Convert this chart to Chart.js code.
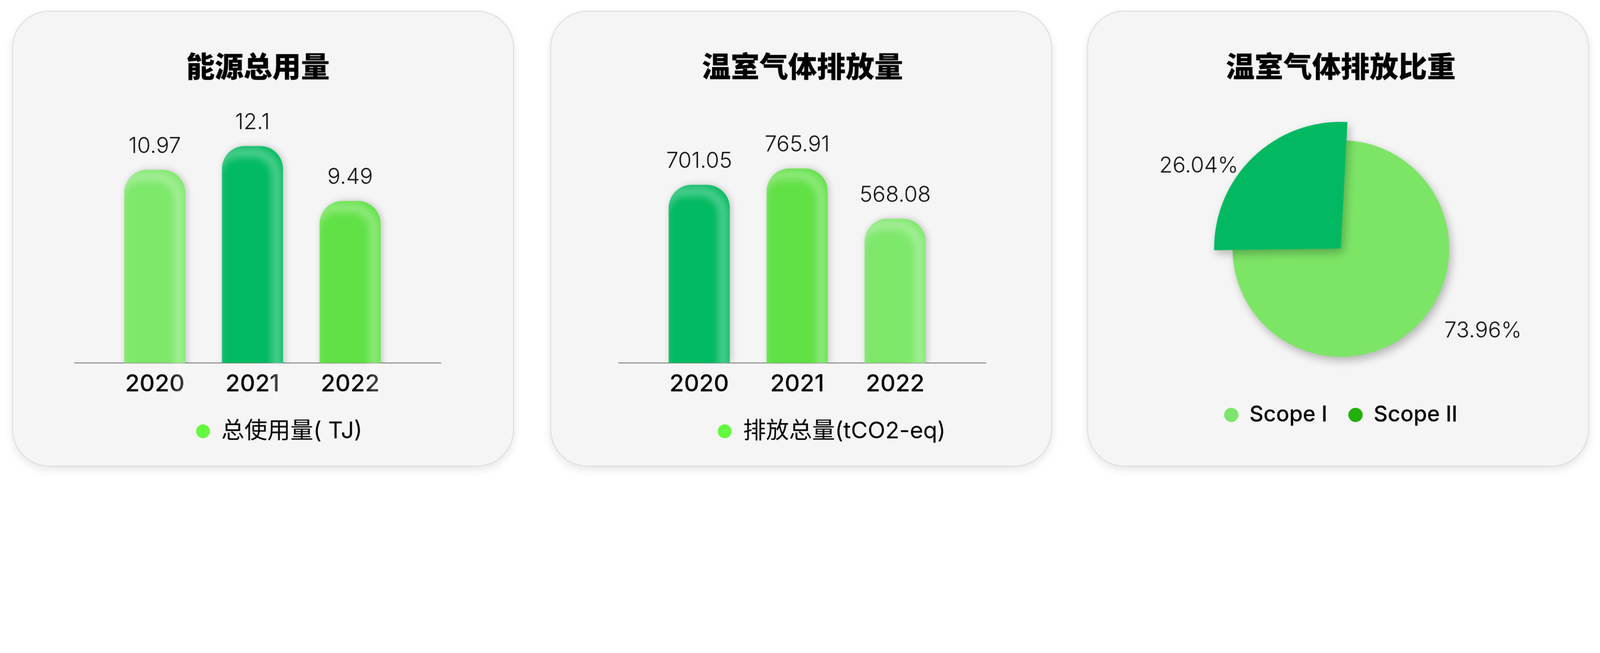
<!DOCTYPE html>
<html lang="zh-CN">
<head>
<meta charset="utf-8">
<title>能源总用量 / 温室气体排放</title>
<script src="https://cdn.jsdelivr.net/npm/chart.js@4.4.1/dist/chart.umd.min.js"></script>
<style>
  html, body { margin: 0; padding: 0; background: #fff; overflow: hidden; }
  #stage {
    position: absolute; left: 0; top: 0; width: 5572px; height: 1671px;
    transform-origin: 0 0;
  }
  .card {
    position: absolute; top: 37px; width: 1748px; height: 1587px;
    box-sizing: border-box; background: #f5f5f5;
    border: 3px solid #dcdcdc; border-radius: 130px;
    box-shadow: 0 12px 30px rgba(0, 0, 0, 0.10);
  }
</style>
</head>
<body>
<div id="stage">
  <div class="card" style="left:42px"><canvas id="energyChart"></canvas></div>
  <div class="card" style="left:1916px"><canvas id="ghgChart"></canvas></div>
  <div class="card" style="left:3786px"><canvas id="scopeChart"></canvas></div>
</div>

<script>
// data
const years = ['2020', '2021', '2022'];
const energyUse = [10.97, 12.1, 9.49];          // 总使用量 (TJ)
const ghgEmission = [701.05, 765.91, 568.08];   // 排放总量 (tCO2-eq)
const scopeLabels = ['Scope I', 'Scope II'];
const scopeShares = [73.96, 26.04];             // %

const LIGHT = '#7ee86b', DARK = '#02ba61', MID = '#61e145';
const DOT = '#63f93e';
const PIE_COLORS = ['#7ce566', '#02b961'];
const PIE_LEGEND = ['#7de56a', '#22b00a'];

// the layout is drawn in reference pixels (5572 wide), then fitted to the window width
const scale = Math.min(1, window.innerWidth / 5572);
document.getElementById('stage').style.transform = 'scale(' + scale + ')';
const DPR = (window.devicePixelRatio || 1) * scale;

const SANS = 'Inter, "Noto Sans CJK SC", sans-serif';
Chart.defaults.font.family = SANS;
Chart.defaults.color = '#000';

// soft shadow under the bars + light inner edge on top/right
const barGloss = {
  id: 'barGloss',
  beforeDatasetsDraw(chart) {
    const c = chart.ctx;
    c.save();
    c.shadowColor = 'rgba(0,0,0,0.20)';
    c.shadowBlur = 18;
    c.shadowOffsetX = 4;
  },
  afterDatasetsDraw(chart) {
    const c = chart.ctx;
    c.restore();
    if (!c.roundRect) return;
    chart.getDatasetMeta(0).data.forEach(bar => {
      const {x, y, base, width} = bar.getProps(['x', 'y', 'base', 'width'], true);
      const left = x - width / 2, r = Math.min(80, width / 2);
      c.save();
      c.beginPath();
      c.roundRect(left, y, width, base - y, [r, r, 0, 0]);
      c.clip();
      c.filter = 'blur(10px)';
      c.strokeStyle = 'rgba(255,255,255,0.30)';
      c.lineWidth = 34;
      c.beginPath();
      c.roundRect(left - 22, y + 22, width, base - y + 60, [r, r, 0, 0]);
      c.stroke();
      c.restore();
    });
  }
};

// value above every bar
const valueLabels = {
  id: 'valueLabels',
  afterDatasetsDraw(chart) {
    const c = chart.ctx;
    const ds = chart.data.datasets[0];
    c.save();
    c.font = '300 76px ' + SANS;
    c.fillStyle = '#111';
    c.textAlign = 'center';
    c.textBaseline = 'middle';
    chart.getDatasetMeta(0).data.forEach((el, i) => {
      c.fillText(String(ds.data[i].y), el.x, el.y - 82);
    });
    c.restore();
  }
};

function barChart(id, opts) {
  return new Chart(document.getElementById(id), {
    type: 'bar',
    data: {
      datasets: [{
        label: opts.legend,
        data: opts.values.map((v, i) => ({x: i, y: v})),
        backgroundColor: opts.colors,
        barThickness: 212,
        borderRadius: {topLeft: 80, topRight: 80, bottomLeft: 0, bottomRight: 0},
        borderSkipped: 'bottom'
      }]
    },
    options: {
      responsive: true,
      maintainAspectRatio: false,
      animation: false,
      devicePixelRatio: DPR,
      layout: {padding: {top: 0, bottom: 70, left: opts.padL, right: opts.padR}},
      plugins: {
        title: {
          display: true,
          text: opts.title,
          fullSize: false,
          color: '#000',
          font: {family: '"Noto Sans CJK SC", sans-serif', size: 100, weight: 900},
          padding: {top: 130, bottom: 50}
        },
        legend: {
          position: 'bottom',
          labels: {
            usePointStyle: true,
            pointStyleWidth: 48,
            boxHeight: 34,
            padding: 75,
            color: '#000',
            font: {size: 80, weight: 400},
            generateLabels: () => [{
              text: opts.legend, fillStyle: DOT, strokeStyle: DOT,
              lineWidth: 0, pointStyle: 'circle', hidden: false, datasetIndex: 0
            }]
          }
        },
        tooltip: {enabled: false}
      },
      scales: {
        x: {
          type: 'linear',
          offset: false,
          min: -0.82,
          max: 2.93,
          afterBuildTicks: s => { s.ticks = years.map((_, i) => ({value: i})); },
          afterFit: s => { s.height = 123; },
          grid: {display: false, drawTicks: false, offset: false},
          border: {display: true, color: '#7a7a7a', width: 3},
          ticks: {
            padding: 25,
            color: '#000',
            font: {size: 82, weight: 500},
            callback: v => years[v]
          }
        },
        y: {
          position: 'right',
          min: opts.min,
          max: opts.max,
          grid: {display: false},
          border: {display: false},
          ticks: {display: false},
          afterFit: s => { s.width = opts.yW; }
        }
      }
    },
    plugins: [barGloss, valueLabels]
  });
}

barChart('energyChart', {
  title: '能源总用量',
  legend: '总使用量( TJ)',
  values: energyUse,
  colors: [LIGHT, DARK, MID],
  min: 1.8, max: 14.4,
  padL: 215, padR: 103, yW: 149
});

barChart('ghgChart', {
  title: '温室气体排放量',
  legend: '排放总量(tCO2-eq)',
  values: ghgEmission,
  colors: [DARK, MID, LIGHT],
  min: 0, max: 1045,
  padL: 236, padR: 24, yW: 203
});

// pie: bigger Scope II slice, drop shadow, percent labels outside
const pieDecor = {
  id: 'pieDecor',
  afterDatasetsUpdate(chart) {
    const arcs = chart.getDatasetMeta(0).data;
    arcs[1].outerRadius = arcs[0].outerRadius * 1.17;
  },
  beforeDatasetsDraw(chart) {
    const c = chart.ctx;
    c.save();
    c.shadowColor = 'rgba(0,0,0,0.26)';
    c.shadowBlur = 22;
    c.shadowOffsetX = 6;
    c.shadowOffsetY = 10;
  },
  afterDatasetsDraw(chart) {
    const c = chart.ctx;
    c.restore();
    const ds = chart.data.datasets[0];
    c.save();
    c.font = '300 76px ' + SANS;
    c.fillStyle = '#111';
    c.textAlign = 'center';
    c.textBaseline = 'middle';
    const shift = -16 * Math.PI / 180;
    chart.getDatasetMeta(0).data.forEach((arc, i) => {
      const mid = (arc.startAngle + arc.endAngle) / 2 + shift;
      c.fillText(ds.data[i].toFixed(2) + '%', arc.x + Math.cos(mid) * 572, arc.y + Math.sin(mid) * 572);
    });
    c.restore();
  }
};

new Chart(document.getElementById('scopeChart'), {
  type: 'pie',
  data: {
    labels: scopeLabels,
    datasets: [{
      data: scopeShares,
      backgroundColor: PIE_COLORS,
      borderWidth: 0
    }]
  },
  options: {
    responsive: true,
    maintainAspectRatio: false,
    animation: false,
    devicePixelRatio: DPR,
    rotation: 3,
    radius: 377,
    layout: {padding: {top: 0, bottom: 129, left: 60, right: 42}},
    plugins: {
      title: {
        display: true,
        text: '温室气体排放比重',
        color: '#000',
        font: {family: '"Noto Sans CJK SC", sans-serif', size: 100, weight: 900},
        padding: {top: 130, bottom: 107}
      },
      legend: {
        position: 'bottom',
        labels: {
          usePointStyle: true,
          pointStyleWidth: 50,
          boxHeight: 35,
          padding: 73,
          color: '#000',
          font: {size: 76, weight: 500},
          generateLabels: chart => chart.data.labels.map((text, i) => ({
            text, fillStyle: PIE_LEGEND[i], strokeStyle: PIE_LEGEND[i],
            lineWidth: 0, pointStyle: 'circle', hidden: false, index: i
          }))
        }
      },
      tooltip: {enabled: false}
    }
  },
  plugins: [pieDecor]
});
</script>
</body>
</html>
